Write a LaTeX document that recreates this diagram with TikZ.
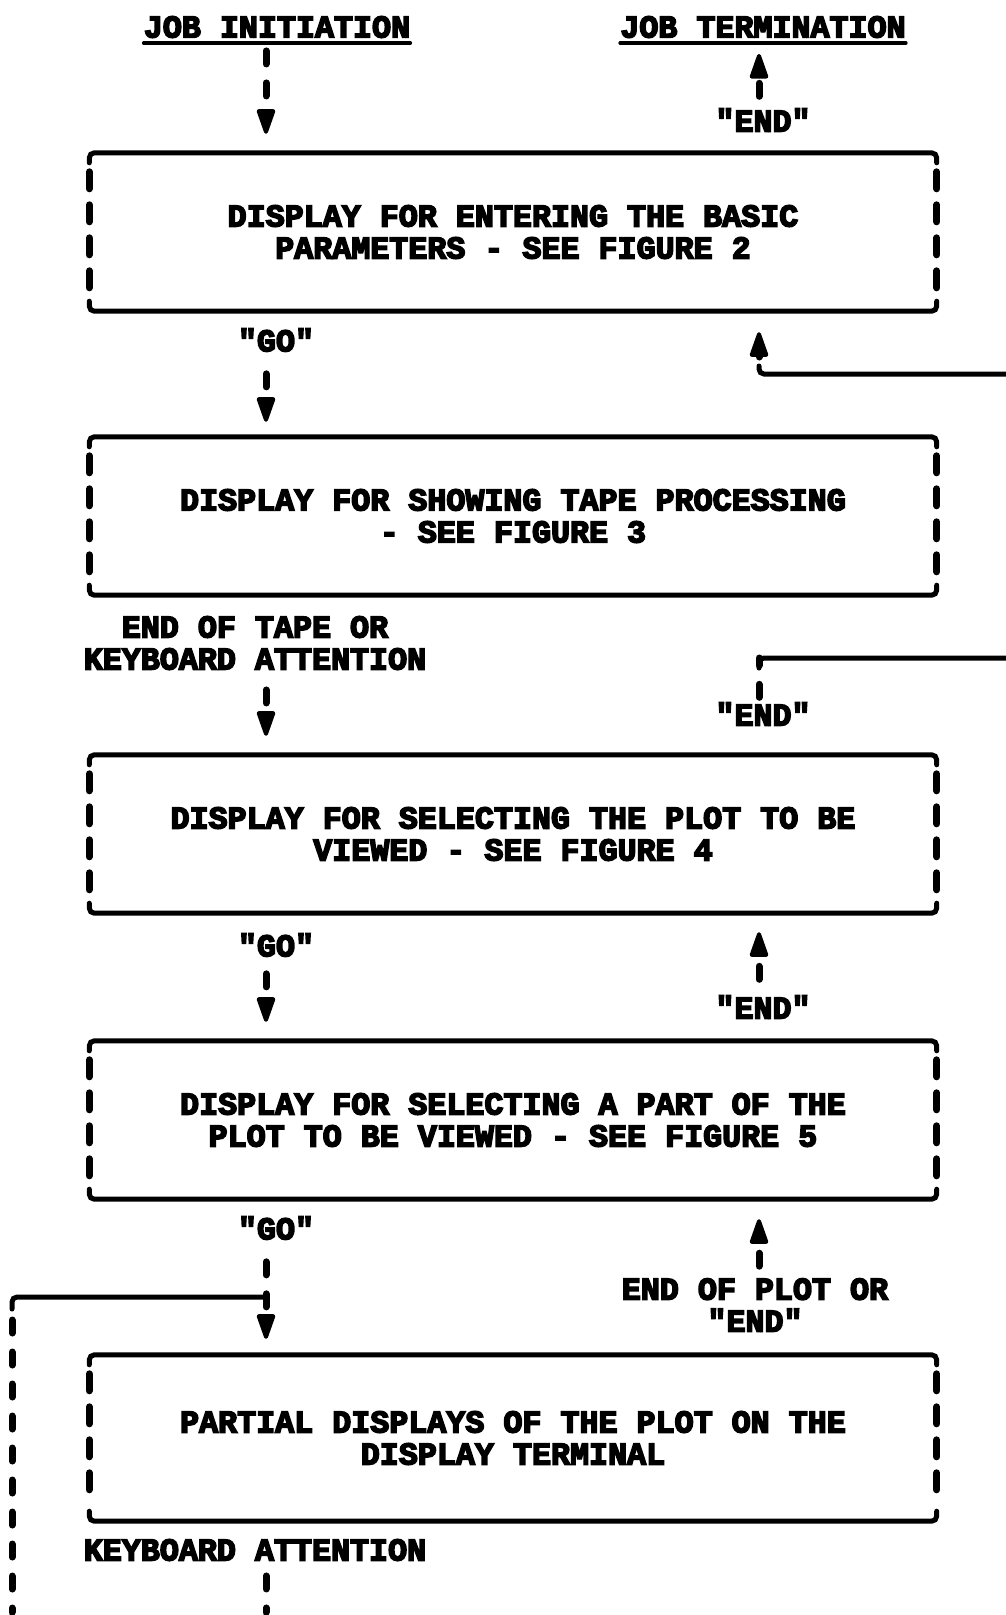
\documentclass[tikz,border=0pt]{standalone}
\usepackage{fontspec}
\newfontfamily\typer{Liberation Mono Bold}[FakeBold=5]
\usetikzlibrary{arrows.meta}

\begin{document}
\begin{tikzpicture}[x=1pt,y=-1pt,
		>={Triangle[width=19pt,length=29pt,round,line width=4pt]},
		lbl/.style={font=\typer\fontsize{31.7}{32}\selectfont,inner sep=0pt,align=center},
		panel/.style={lbl,minimum width=847pt,minimum height=158pt},
		rail/.style={line width=5pt,line cap=round,rounded corners=5pt},
		flow/.style={line width=7pt,line cap=round,dash pattern=on 13pt off 19pt},
		side/.style={line width=7pt,line cap=round,dash pattern=on 17pt off 16pt}]
		\useasboundingbox (0,0) rectangle (1006,1615);
		
		\coordinate (colL) at (266,0);
		\coordinate (colR) at (759,0);
		
		\node[lbl] (init) at (277,27) {JOB INITIATION};
		\node[lbl] (term) at (763,27) {JOB TERMINATION};
		\draw[rail,line width=3.5pt] ([yshift=-5pt]init.south west) -- ([yshift=-5pt]init.south east);
		\draw[rail,line width=3.5pt] ([yshift=-5pt]term.south west) -- ([yshift=-5pt]term.south east);
		\node[lbl] (end1) at (763,120) {"END"};
		
		\node[panel] (b1) at (513,232) {DISPLAY FOR ENTERING THE BASIC\\PARAMETERS - SEE FIGURE 2};
		\node[lbl] (go1) at (276,340) {"GO"};
		\node[panel] (b2) at (513,516) {DISPLAY FOR SHOWING TAPE PROCESSING\\- SEE FIGURE 3};
		\node[lbl] (eot) at (255,643) {END OF TAPE OR\\KEYBOARD ATTENTION};
		\node[lbl] (end2) at (763,714) {"END"};
		\node[panel] (b3) at (513,834) {DISPLAY FOR SELECTING THE PLOT TO BE\\VIEWED - SEE FIGURE 4};
		\node[lbl] (go2) at (276,945) {"GO"};
		\node[lbl] (end3) at (763,1007) {"END"};
		\node[panel] (b4) at (513,1120) {DISPLAY FOR SELECTING A PART OF THE\\PLOT TO BE VIEWED - SEE FIGURE 5};
		\node[lbl] (go3) at (276,1228) {"GO"};
		\node[lbl] (eop) at (755,1305) {END OF PLOT OR\\"END"};
		\node[panel,minimum height=166pt] (b5) at (513,1438) {PARTIAL DISPLAYS OF THE PLOT ON THE\\DISPLAY TERMINAL};
		\node[lbl] (kbd) at (255,1550) {KEYBOARD ATTENTION};
		
		% box outlines, typed rules top and bottom, bars at the sides
		\draw[rail] ([yshift=-10pt]b1.north west) -- (b1.north west) -- (b1.north east) -- ([yshift=-10pt]b1.north east) ([yshift=10pt]b1.south west) -- (b1.south west) -- (b1.south east) -- ([yshift=10pt]b1.south east);
		\draw[side] ([yshift=-19pt]b1.north west) -- ([yshift=19pt]b1.south west) ([yshift=-19pt]b1.north east) -- ([yshift=19pt]b1.south east);
		\draw[rail] ([yshift=-10pt]b2.north west) -- (b2.north west) -- (b2.north east) -- ([yshift=-10pt]b2.north east) ([yshift=10pt]b2.south west) -- (b2.south west) -- (b2.south east) -- ([yshift=10pt]b2.south east);
		\draw[side] ([yshift=-19pt]b2.north west) -- ([yshift=19pt]b2.south west) ([yshift=-19pt]b2.north east) -- ([yshift=19pt]b2.south east);
		\draw[rail] ([yshift=-10pt]b3.north west) -- (b3.north west) -- (b3.north east) -- ([yshift=-10pt]b3.north east) ([yshift=10pt]b3.south west) -- (b3.south west) -- (b3.south east) -- ([yshift=10pt]b3.south east);
		\draw[side] ([yshift=-19pt]b3.north west) -- ([yshift=19pt]b3.south west) ([yshift=-19pt]b3.north east) -- ([yshift=19pt]b3.south east);
		\draw[rail] ([yshift=-10pt]b4.north west) -- (b4.north west) -- (b4.north east) -- ([yshift=-10pt]b4.north east) ([yshift=10pt]b4.south west) -- (b4.south west) -- (b4.south east) -- ([yshift=10pt]b4.south east);
		\draw[side] ([yshift=-19pt]b4.north west) -- ([yshift=19pt]b4.south west) ([yshift=-19pt]b4.north east) -- ([yshift=19pt]b4.south east);
		\draw[rail] ([yshift=-10pt]b5.north west) -- (b5.north west) -- (b5.north east) -- ([yshift=-10pt]b5.north east) ([yshift=10pt]b5.south west) -- (b5.south west) -- (b5.south east) -- ([yshift=10pt]b5.south east);
		\draw[side] ([yshift=-19pt]b5.north west) -- ([yshift=19pt]b5.south west) ([yshift=-19pt]b5.north east) -- ([yshift=19pt]b5.south east);
		
		% main line down the left
		\draw[flow,->,shorten <=13pt,shorten >=19pt] (init.south -| colL) -- (b1.north -| colL);
		\draw[flow,->,shorten <=22pt,shorten >=15pt] (go1.south -| colL) -- (b2.north -| colL);
		\draw[flow,->,shorten <=20pt,shorten >=19pt] (eot.south -| colL) -- (b3.north -| colL);
		\draw[flow,->,shorten <=17pt,shorten >=19pt] (go2.south -| colL) -- (b4.north -| colL);
		\draw[flow,->,shorten <=22pt,shorten >=16pt] (go3.south -| colL) -- (b5.north -| colL);
		
		% "END" lines up the right
		\draw[flow,->,shorten <=12pt,shorten >=16pt] (end1.north -| colR) -- (term.south -| colR);
		\draw[flow,->,shorten <=16pt,shorten >=19pt] (end3.north -| colR) -- (b3.south -| colR);
		\draw[flow,->,shorten <=12pt,shorten >=20pt] (eop.north -| colR) -- (b4.south -| colR);
		
		% loop back from box 3 to box 1, round the right margin
		\coordinate (outB) at (759,658);
		\coordinate (edgeB) at (1040,658);
		\coordinate (retA) at (759,374);
		\coordinate (edgeA) at (1040,374);
		\draw[flow,shorten <=5pt] (end2.north -| colR) -- (outB);
		\draw[rail] (edgeB) -- (outB) -- ++(0,10);
		\draw[rail] (edgeA) -- (retA) -- ++(0,-8);
		\draw[flow,solid,->,shorten <=17pt,shorten >=21pt] (retA) -- (b1.south -| colR);
		
		% keyboard attention loop round the left margin
		\coordinate (joinL) at (266,1297);
		\coordinate (cornL) at (12,1297);
		\coordinate (botL) at (12,1624);
		\coordinate (botM) at (266,1624);
		\draw[rail] (joinL) -- (cornL) -- ++(0,12);
		\draw[flow,shorten <=23pt,shorten >=12pt] (cornL) -- (botL);
		\draw[flow,shorten <=15pt,shorten >=12pt] (kbd.south -| colL) -- (botM);
		\draw[rail] ([yshift=12pt]botL) -- (botL) -- (botM) -- ([yshift=12pt]botM);
\end{tikzpicture}
\end{document}
